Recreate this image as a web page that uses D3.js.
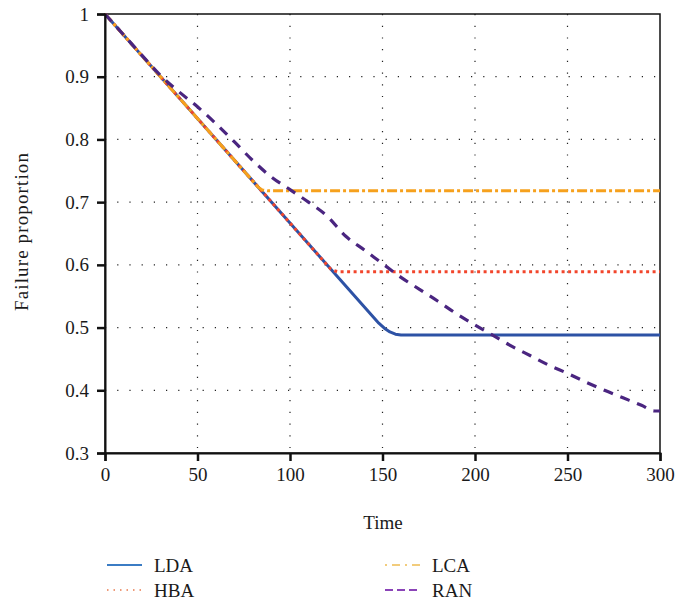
<!DOCTYPE html>
<html><head><meta charset="utf-8">
<script src="https://cdn.jsdelivr.net/npm/d3@7"></script>
<style>body{margin:0;background:#fff}svg{display:block}text{font-family:"Liberation Serif","DejaVu Serif",serif;fill:#1a1a1a}</style>
</head><body><svg id="c" width="675" height="606"></svg>
<script>
const xTicks = [0,50,100,150,200,250,300];
const yTicks = [0.3,0.4,0.5,0.6,0.7,0.8,0.9,1];
const ldaT = [0,50,100,145,148,151,154,157,160,300];
const ldaV = [1,0.8333,0.6667,0.5167,0.507,0.499,0.493,0.4895,0.488,0.488];
const hbaT = [0,50,100,122,124,126,300];
const hbaV = [1,0.8333,0.6667,0.5933,0.5905,0.589,0.589];
const lcaT = [0,50,83,85,88,300];
const lcaV = [1,0.8333,0.7233,0.7195,0.718,0.718];
const ranT = [0,10,20,30,40,50,60,70,80,90,100,110,120,130,140,150,160,170,180,190,200,210,220,230,240,250,260,270,280,290,297,300];
const ranV = [1,0.967,0.934,0.902,0.876,0.852,0.825,0.796,0.766,0.74,0.72,0.7,0.678,0.646,0.624,0.602,0.58,0.561,0.542,0.522,0.504,0.487,0.47,0.455,0.44,0.427,0.413,0.4,0.388,0.376,0.367,0.367];
const names = ["LDA","HBA","LCA","RAN"];
const colors = ["#2d52a5","#f2462c","#f6a11d","#4a2580"];
const legendColors = ["#3b7cc4","#ee9a78","#f2cc7c","#8b44b8"];
const dashes = [null,"3,3.5","10,3,3,3","10,8"];
const widths = [3,3,3,3.2];

const svg = d3.select("#c");
const x = d3.scaleLinear().domain([0,300]).range([105,660]);
const y = d3.scaleLinear().domain([0.3,1]).range([453,14]);

// grid
const g = svg.append("g");
g.selectAll(".gx").data(xTicks.slice(1,-1)).enter().append("line")
 .attr("x1",d=>x(d)).attr("x2",d=>x(d)).attr("y1",y(1)).attr("y2",y(0.3))
 .attr("stroke","#222").attr("stroke-width",1.2).attr("stroke-dasharray","1.2,10.5");
g.selectAll(".gy").data(yTicks.slice(1,-1)).enter().append("line")
 .attr("y1",d=>y(d)).attr("y2",d=>y(d)).attr("x1",x(0)).attr("x2",x(300))
 .attr("stroke","#222").attr("stroke-width",1.2).attr("stroke-dasharray","1.2,11");

// frame
svg.append("rect").attr("x",x(0)).attr("y",y(1)).attr("width",x(300)-x(0)).attr("height",y(0.3)-y(1))
 .attr("fill","none").attr("stroke","#111").attr("stroke-width",1.5);

const lineL = d3.line().x(d=>x(d[0])).y(d=>y(d[1]));
const lineC = d3.line().x(d=>x(d[0])).y(d=>y(d[1])).curve(d3.curveMonotoneX);
const series = [[ldaT,ldaV],[hbaT,hbaV],[lcaT,lcaV],[ranT,ranV]];
[0,1,2,3].forEach(i=>{
  const pts = series[i][0].map((t,k)=>[t,series[i][1][k]]);
  svg.append("path").datum(pts).attr("d",i===3?lineC:lineL).attr("fill","none")
   .attr("stroke",colors[i]).attr("stroke-width",widths[i])
   .attr("stroke-dasharray",dashes[i]).attr("stroke-linejoin","round");
});

// axes
const xa = svg.append("g").attr("transform",`translate(0,${y(0.3)})`)
 .call(d3.axisBottom(x).tickValues(xTicks).tickSize(8).tickPadding(7).tickFormat(d3.format("d")));
const ya = svg.append("g").attr("transform",`translate(${x(0)},0)`)
 .call(d3.axisLeft(y).tickValues(yTicks).tickSize(8).tickPadding(8).tickFormat(d=>d===1?"1":d3.format(".1f")(d)));
[xa,ya].forEach(a=>{
  a.select(".domain").attr("stroke","#111").attr("stroke-width",2);
  a.selectAll(".tick line").attr("stroke","#111").attr("stroke-width",2.5);
  a.selectAll("text").style("font-size","19px").attr("fill","#1a1a1a").style("font-family",'"Liberation Serif",serif');
});

svg.append("text").attr("x",383).attr("y",529).attr("text-anchor","middle").style("font-size","19px").text("Time");
svg.append("text").attr("transform","translate(28,232) rotate(-90)").attr("text-anchor","middle")
 .attr("textLength",158).attr("lengthAdjust","spacing").style("font-size","19px").text("Failure proportion");

// legend
const lg = [[107,565],[107,590],[385,565],[385,590]];
names.forEach((n,i)=>{
  const [lx,ly] = lg[i];
  svg.append("line").attr("x1",lx).attr("x2",lx+35).attr("y1",ly).attr("y2",ly)
   .attr("stroke",legendColors[i]).attr("stroke-width",2).attr("stroke-dasharray", i===1?"1.5,5":(i===2?"2,5,8,5":(i===3?"8,4":null)));
  svg.append("text").attr("x",lx+47).attr("y",ly+7).style("font-size","19px").text(n);
});
</script></body></html>
